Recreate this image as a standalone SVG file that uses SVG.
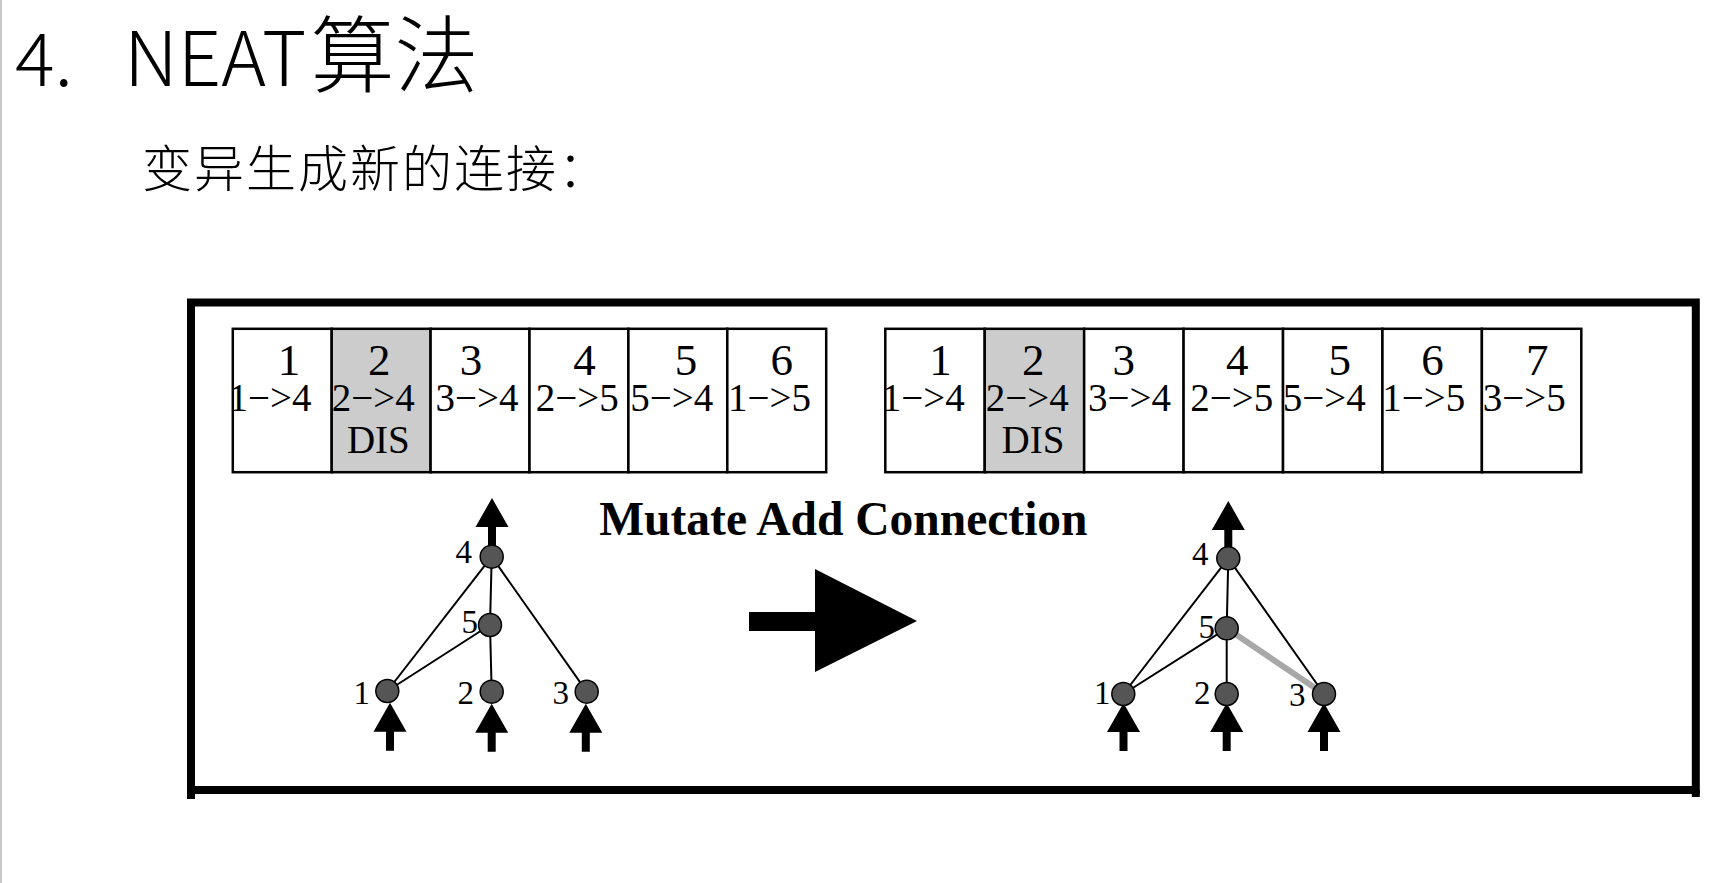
<svg xmlns="http://www.w3.org/2000/svg" width="1729" height="883" viewBox="0 0 1729 883">
<style>
.title{font-family:"Noto Sans CJK SC","Noto Sans",sans-serif;font-weight:300;fill:#000}
.cell{fill:#fff;stroke:#000;stroke-width:2.5}
.dis{fill:#cccccc}
.num{font-family:"Liberation Serif",serif;font-size:45px;fill:#000;text-anchor:middle}
.conn{font-family:"Liberation Serif",serif;font-size:39px;fill:#000}
.dtxt{font-family:"Liberation Serif",serif;font-size:39px;fill:#000;text-anchor:middle}
.nd{fill:#555555;stroke:#000;stroke-width:1.5}
.lbl{font-family:"Liberation Serif",serif;font-size:33px;fill:#000;text-anchor:end}
.edge{stroke:#000;stroke-width:2;fill:none}
.newedge{stroke:#a8a8a8;stroke-width:6;fill:none}
.arr{fill:#000}
</style>
<defs>
<path id="up" d="M0,0 L16.5,29 L4,29 L4,48 L-4,48 L-4,29 L-16.5,29 Z"/>
</defs>
<rect width="1729" height="883" fill="#fff"/>
<line x1="1" y1="0" x2="1" y2="883" stroke="#c8c8c8" stroke-width="2"/>

<g id="title">
<text class="title" x="15" y="86" font-size="74">4.</text>
<text class="title" x="124" y="86"><tspan font-size="76">NEAT</tspan><tspan font-size="84" dx="4">算法</tspan></text>
<text class="title" x="142" y="187" font-size="50" letter-spacing="2">变异生成新的连接：</text>
</g>

<g id="frame">
<rect x="191" y="302.5" width="1504.8" height="487.5" fill="none" stroke="#000" stroke-width="8"/>
<line x1="191" y1="790" x2="191" y2="799" stroke="#000" stroke-width="8"/>
<line x1="1695.8" y1="790" x2="1695.8" y2="797" stroke="#000" stroke-width="8"/>
</g>

<g id="genome-before">
<g id="gb1"><rect class="cell" x="232.8" y="328.8" width="98.9" height="143.4"/><text class="num" x="288.9" y="375">1</text><text class="conn" x="228.4" y="410.7">1−&gt;4</text></g>
<g id="gb2"><rect class="cell dis" x="331.7" y="328.8" width="98.9" height="143.4"/><text class="num" x="379.3" y="375">2</text><text class="conn" x="331.8" y="410.7">2−&gt;4</text><text class="dtxt" x="378.3" y="453.3">DIS</text></g>
<g id="gb3"><rect class="cell" x="430.6" y="328.8" width="98.9" height="143.4"/><text class="num" x="470.9" y="375">3</text><text class="conn" x="435.4" y="410.7">3−&gt;4</text></g>
<g id="gb4"><rect class="cell" x="529.5" y="328.8" width="98.9" height="143.4"/><text class="num" x="584.4" y="375">4</text><text class="conn" x="535.8" y="410.7">2−&gt;5</text></g>
<g id="gb5"><rect class="cell" x="628.4" y="328.8" width="98.9" height="143.4"/><text class="num" x="685.9" y="375">5</text><text class="conn" x="630.3" y="410.7">5−&gt;4</text></g>
<g id="gb6"><rect class="cell" x="727.3" y="328.8" width="98.9" height="143.4"/><text class="num" x="781.8" y="375">6</text><text class="conn" x="727.9" y="410.7">1−&gt;5</text></g>
</g>

<g id="genome-after">
<g id="ga1"><rect class="cell" x="885.3" y="328.8" width="99.43" height="143.4"/><text class="num" x="940.6" y="375">1</text><text class="conn" x="881.7" y="410.7">1−&gt;4</text></g>
<g id="ga2"><rect class="cell dis" x="984.73" y="328.8" width="99.43" height="143.4"/><text class="num" x="1033.2" y="375">2</text><text class="conn" x="985.8" y="410.7">2−&gt;4</text><text class="dtxt" x="1033" y="453.3">DIS</text></g>
<g id="ga3"><rect class="cell" x="1084.16" y="328.8" width="99.43" height="143.4"/><text class="num" x="1123.7" y="375">3</text><text class="conn" x="1088" y="410.7">3−&gt;4</text></g>
<g id="ga4"><rect class="cell" x="1183.59" y="328.8" width="99.43" height="143.4"/><text class="num" x="1237.2" y="375">4</text><text class="conn" x="1190.2" y="410.7">2−&gt;5</text></g>
<g id="ga5"><rect class="cell" x="1283.02" y="328.8" width="99.43" height="143.4"/><text class="num" x="1339.8" y="375">5</text><text class="conn" x="1282.8" y="410.7">5−&gt;4</text></g>
<g id="ga6"><rect class="cell" x="1382.45" y="328.8" width="99.43" height="143.4"/><text class="num" x="1432.4" y="375">6</text><text class="conn" x="1382.2" y="410.7">1−&gt;5</text></g>
<g id="ga7"><rect class="cell" x="1481.88" y="328.8" width="99.43" height="143.4"/><text class="num" x="1537.2" y="375">7</text><text class="conn" x="1482.8" y="410.7">3−&gt;5</text></g>
</g>

<g id="heading">
<text x="843.4" y="535" font-family="Liberation Serif,serif" font-weight="bold" font-size="47.5" text-anchor="middle">Mutate Add Connection</text>
</g>

<g id="mutate-arrow">
<polygon class="arr" points="749,612 815,612 815,569 917,621 815,672 815,631 749,631"/>
</g>

<g id="connectors">
<line class="edge" x1="491.7" y1="556.7" x2="387.3" y2="691"/>
<line class="edge" x1="491.7" y1="556.7" x2="490" y2="625"/>
<line class="edge" x1="491.7" y1="556.7" x2="586.7" y2="691.7"/>
<line class="edge" x1="490" y1="625" x2="387.3" y2="691"/>
<line class="edge" x1="490" y1="625" x2="491.7" y2="691.7"/>
<line class="newedge" x1="1226.7" y1="628.3" x2="1324" y2="694"/>
<line class="edge" x1="1228.3" y1="558.3" x2="1123.3" y2="694"/>
<line class="edge" x1="1228.3" y1="558.3" x2="1226.7" y2="628.3"/>
<line class="edge" x1="1228.3" y1="558.3" x2="1324" y2="694"/>
<line class="edge" x1="1226.7" y1="628.3" x2="1123.3" y2="694"/>
<line class="edge" x1="1226.7" y1="628.3" x2="1226.7" y2="694"/>
<use href="#up" class="arr" x="492" y="498"/>
<use href="#up" class="arr" x="390" y="702.7"/>
<use href="#up" class="arr" x="491.7" y="703.7"/>
<use href="#up" class="arr" x="585.8" y="703.7"/>
<use href="#up" class="arr" x="1228.3" y="501"/>
<use href="#up" class="arr" x="1123.5" y="703"/>
<use href="#up" class="arr" x="1226.7" y="703"/>
<use href="#up" class="arr" x="1324" y="703"/>
</g>

<g id="net-before">
<g id="nb4"><circle class="nd" cx="491.7" cy="556.7" r="11.5"/><text class="lbl" x="472" y="563">4</text></g>
<g id="nb5"><circle class="nd" cx="490" cy="625" r="11.5"/><text class="lbl" x="478" y="633">5</text></g>
<g id="nb1"><circle class="nd" cx="387.3" cy="691" r="11.5"/><text class="lbl" x="370" y="704">1</text></g>
<g id="nb2"><circle class="nd" cx="491.7" cy="691.7" r="11.5"/><text class="lbl" x="474" y="704">2</text></g>
<g id="nb3"><circle class="nd" cx="586.7" cy="691.7" r="11.5"/><text class="lbl" x="569" y="704">3</text></g>
</g>

<g id="net-after">
<g id="na4"><circle class="nd" cx="1228.3" cy="558.3" r="11.5"/><text class="lbl" x="1208.5" y="564.5">4</text></g>
<g id="na5"><circle class="nd" cx="1226.7" cy="628.3" r="11.5"/><text class="lbl" x="1215" y="638">5</text></g>
<g id="na1"><circle class="nd" cx="1123.3" cy="694" r="11.5"/><text class="lbl" x="1110.5" y="704">1</text></g>
<g id="na2"><circle class="nd" cx="1226.7" cy="694" r="11.5"/><text class="lbl" x="1210.5" y="704">2</text></g>
<g id="na3"><circle class="nd" cx="1324" cy="694" r="11.5"/><text class="lbl" x="1305.5" y="706">3</text></g>
</g>
</svg>
